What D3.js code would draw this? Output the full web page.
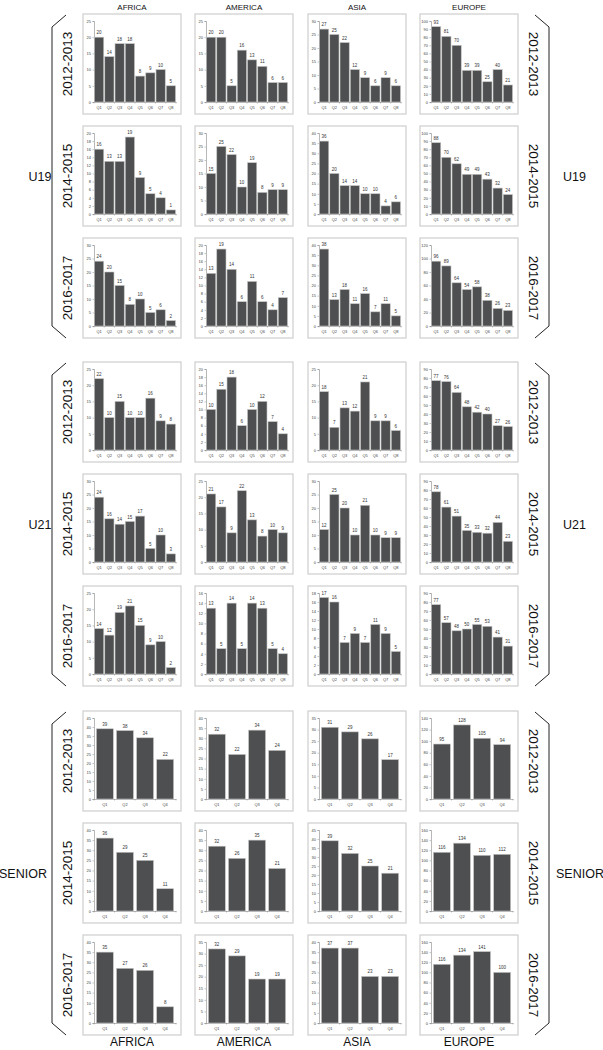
<!DOCTYPE html>
<html><head><meta charset="utf-8">
<script src="https://cdn.jsdelivr.net/npm/d3@7"></script>
<style>body{margin:0;background:#fff}svg{display:block;font-family:"Liberation Sans",Arial,sans-serif}</style>
</head><body><svg id="c" width="603" height="1050"></svg>
<script>
const regions = ["AFRICA","AMERICA","ASIA","EUROPE"];
const groups = ["U19","U21","SENIOR"];
const seasons = ["2012-2013","2014-2015","2016-2017"];
const quarters8 = ["Q1","Q2","Q3","Q4","Q5","Q6","Q7","Q8"];
const quarters4 = ["Q1","Q2","Q3","Q4"];

// values[season][region]
const u19Values = [
  [[20,14,18,18,8,9,10,5],[20,20,5,16,13,11,6,6],[27,25,22,12,9,6,9,6],[93,81,70,39,39,25,40,21]],
  [[16,13,13,19,9,5,4,1],[15,25,22,10,19,8,9,9],[36,20,14,14,10,10,4,6],[88,70,62,49,49,43,32,24]],
  [[24,20,15,8,10,5,6,2],[13,19,14,6,11,6,4,7],[38,13,18,11,16,7,11,5],[96,89,64,54,58,38,26,23]]
];
const u19YMax = [[25,25,30,100],[20,30,40,100],[30,20,40,120]];
const u19YStep = [[5,5,5,10],[2,5,5,10],[5,2,5,20]];

const u21Values = [
  [[22,10,15,10,10,16,9,8],[10,15,18,6,10,12,7,4],[18,7,13,12,21,9,9,6],[77,76,64,48,42,40,27,26]],
  [[24,16,14,15,17,5,10,3],[21,17,9,22,13,8,10,9],[12,25,20,10,21,10,9,9],[78,61,51,35,33,32,44,23]],
  [[14,12,19,21,15,9,10,2],[13,5,14,5,14,13,5,4],[17,16,7,9,7,11,9,5],[77,57,48,50,55,53,41,31]]
];
const u21YMax = [[25,20,25,90],[30,25,30,90],[25,16,18,90]];
const u21YStep = [[5,2,5,10],[5,5,5,10],[5,2,2,10]];

const seniorValues = [
  [[39,38,34,22],[32,22,34,24],[31,29,26,17],[95,128,105,94]],
  [[36,29,25,11],[32,26,35,21],[39,32,25,21],[116,134,110,112]],
  [[35,27,26,8],[32,29,19,19],[37,37,23,23],[116,134,141,100]]
];
const seniorYMax = [[45,40,35,140],[40,40,45,160],[40,35,40,160]];
const seniorYStep = [[5,5,5,20],[5,5,5,20],[5,5,5,20]];

const groupData = [
  {values:u19Values, yMax:u19YMax, yStep:u19YStep, cats:quarters8},
  {values:u21Values, yMax:u21YMax, yStep:u21YStep, cats:quarters8},
  {values:seniorValues, yMax:seniorYMax, yStep:seniorYStep, cats:quarters4}
];

const svg = d3.select("#c");
const colX = [83,195,308,420];
const panelW = 98, panelH = 100;
const groupTops = [14,362,711];
const rowStep = 112;

function panel(g, x0, y0, vals, ymax, ystep, cats){
  const p = g.append("g");
  p.append("rect").attr("x",x0).attr("y",y0).attr("width",panelW).attr("height",panelH)
    .attr("fill","#fff").attr("stroke","#d2d2d2").attr("stroke-width",1.3);
  const L = x0+11, R = x0+93, T = y0+7, B = y0+88;
  const x = d3.scaleBand().domain(cats).range([L,R]).paddingInner(cats.length>4?0.1:0.16).paddingOuter(cats.length>4?0.05:0.12);
  const y = d3.scaleLinear().domain([0,ymax]).range([B,T]);
  const ya = p.append("g").attr("transform",`translate(${L},0)`)
    .call(d3.axisLeft(y).tickValues(d3.range(0,ymax+0.001,ystep)).tickSize(1.5).tickPadding(1.5));
  ya.select(".domain").attr("stroke","#888").attr("stroke-width",0.6);
  ya.selectAll(".tick line").attr("stroke","#888").attr("stroke-width",0.5);
  ya.selectAll("text").attr("font-size",4).attr("fill","#444").attr("font-family","Liberation Sans, Arial");
  const xa = p.append("g").attr("transform",`translate(0,${B})`)
    .call(d3.axisBottom(x).tickSize(0).tickPadding(4));
  xa.select(".domain").attr("stroke","#888").attr("stroke-width",0.6);
  xa.selectAll("text").attr("font-size",4).attr("fill","#444").attr("font-family","Liberation Sans, Arial");
  // category boundary tick marks
  p.selectAll(".bt").data(d3.range(cats.length+1)).join("line")
    .attr("x1",i=>L + (R-L)*i/cats.length).attr("x2",i=>L + (R-L)*i/cats.length)
    .attr("y1",B).attr("y2",B+1.5).attr("stroke","#888").attr("stroke-width",0.5);
  p.selectAll(".bar").data(vals).join("rect")
    .attr("x",(d,i)=>x(cats[i])).attr("width",x.bandwidth())
    .attr("y",d=>y(d)).attr("height",d=>B-y(d))
    .attr("fill","#4e4f50").attr("stroke","#c4c4c4").attr("stroke-width",0.6);
  p.selectAll(".lbl").data(vals).join("text")
    .attr("x",(d,i)=>x(cats[i])+x.bandwidth()/2).attr("y",d=>y(d)-3)
    .attr("text-anchor","middle").attr("font-size",4.5).attr("fill","#333").text(d=>d);
}

groupData.forEach((gd,gi)=>{
  const gTop = groupTops[gi];
  for(let r=0;r<3;r++){
    const y0 = gTop + r*rowStep;
    for(let c=0;c<4;c++){
      panel(svg, colX[c], y0, gd.values[r][c], gd.yMax[r][c], gd.yStep[r][c], gd.cats);
    }
    const cy = y0 + panelH/2;
    svg.append("text").attr("transform",`translate(72,${cy}) rotate(-90)`)
      .attr("text-anchor","middle").attr("font-size",13.5).attr("fill","#111").text(seasons[r]);
    svg.append("text").attr("transform",`translate(529,${cy}) rotate(90)`)
      .attr("text-anchor","middle").attr("font-size",13.5).attr("fill","#111").text(seasons[r]);
  }
  const top = gTop+1, bot = gTop + 2*rowStep + panelH;
  const mid = (top+bot)/2;
  // left brace
  svg.append("path").attr("d",`M66,${top} L52,${top+12} L52,${bot-12} L66,${bot}`)
    .attr("fill","none").attr("stroke","#222").attr("stroke-width",1);
  svg.append("path").attr("d",`M535,${top} L549,${top+12} L549,${bot-12} L535,${bot}`)
    .attr("fill","none").attr("stroke","#222").attr("stroke-width",1);
  svg.append("text").attr("x",gi==2?23:40).attr("y",mid+4.5).attr("text-anchor","middle")
    .attr("font-size",12.5).attr("fill","#111").text(groups[gi]);
  svg.append("text").attr("x",gi==2?580:563).attr("y",mid+4.5).attr("text-anchor",gi==2?"middle":"start")
    .attr("font-size",12.5).attr("fill","#111").text(groups[gi]);
});

regions.forEach((rg,c)=>{
  svg.append("text").attr("x",colX[c]+panelW/2).attr("y",10).attr("text-anchor","middle")
    .attr("font-size",8).attr("fill","#111").text(rg);
  svg.append("text").attr("x",colX[c]+panelW/2).attr("y",1046).attr("text-anchor","middle")
    .attr("font-size",12).attr("fill","#111").text(rg);
});
</script></body></html>
